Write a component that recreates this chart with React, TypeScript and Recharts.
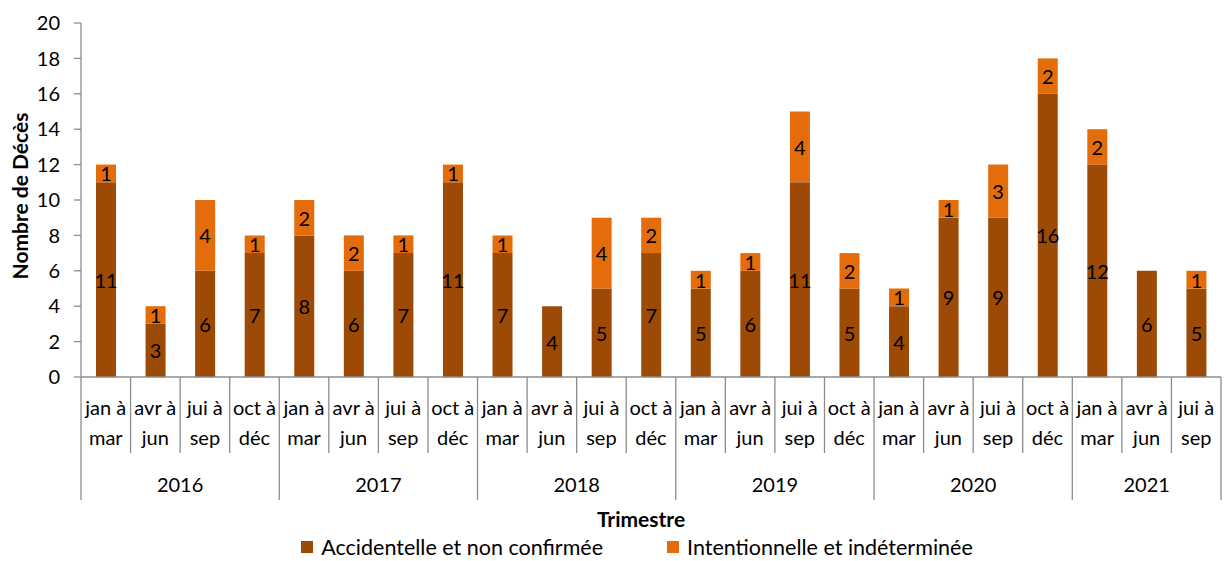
import React from 'react';
import { BarChart, Bar, XAxis, YAxis, LabelList } from 'recharts';

if (typeof document !== 'undefined') {
  document.body.style.margin = '0';
}

const quarterStarts = ['jan à', 'avr à', 'jui à', 'oct à'];
const quarterEnds = ['mar', 'jun', 'sep', 'déc'];
const years = ['2016', '2017', '2018', '2019', '2020', '2021'];
const accidental = [11, 3, 6, 7, 8, 6, 7, 11, 7, 4, 5, 7, 5, 6, 11, 5, 4, 9, 9, 16, 12, 6, 5];
const intentional = [1, 1, 4, 1, 2, 2, 1, 1, 1, 0, 4, 2, 1, 1, 4, 2, 1, 1, 3, 2, 2, 0, 1];
const yTicks = [0, 2, 4, 6, 8, 10, 12, 14, 16, 18, 20];

const SERIES_A = 'Accidentelle et non confirmée';
const SERIES_B = 'Intentionnelle et indéterminée';
const COLOR_A = '#9C4A06';
const COLOR_B = '#E46C0A';
const AXIS = '#8C8C8C';
const FONT = 'Lato, "Open Sans", sans-serif';

const data = accidental.map((a, i) => ({
  key: `${years[Math.floor(i / 4)]}-${i % 4}`,
  a,
  b: intentional[i],
  q: i % 4,
  y: Math.floor(i / 4),
}));

const W = 1231;
const H = 561;
const PLOT_LEFT = 81;
const PLOT_RIGHT = 1221;
const PLOT_TOP = 23;
const AXIS_Y = 377;
const BAND = (PLOT_RIGHT - PLOT_LEFT) / data.length;

function QuarterTick(props: any) {
  const { x, payload } = props;
  const i: number = payload.index;
  const d = data[i];
  const left = x - BAND / 2;
  const yearStart = d.q === 0;
  const isLast = i === data.length - 1;
  const count = data.filter((e) => e.y === d.y).length;
  return (
    <g>
      <line x1={left} x2={left} y1={AXIS_Y} y2={yearStart ? 500 : 453} stroke={AXIS} strokeWidth={1.3} />
      {isLast && (
        <line x1={left + BAND} x2={left + BAND} y1={AXIS_Y} y2={500} stroke={AXIS} strokeWidth={1.3} />
      )}
      <text x={x} y={415} textAnchor="middle" fontSize={20} fill="#000" fontFamily={FONT}>
        {quarterStarts[d.q]}
      </text>
      <text x={x} y={445} textAnchor="middle" fontSize={20} fill="#000" fontFamily={FONT}>
        {quarterEnds[d.q]}
      </text>
      {yearStart && (
        <text x={left + (BAND * count) / 2} y={492} textAnchor="middle" fontSize={20} fill="#000" fontFamily={FONT}>
          {years[d.y]}
        </text>
      )}
    </g>
  );
}

function ValueLabel(props: any) {
  const { x, y, width, height, value } = props;
  if (!value) return null;
  return (
    <text
      x={x + width / 2}
      y={y + height / 2}
      textAnchor="middle"
      dominantBaseline="central"
      fontSize={20}
      fill="#000"
      fontFamily={FONT}
    >
      {value}
    </text>
  );
}

export default function App() {
  return (
    <div style={{ position: 'relative', width: W, height: H, background: '#fff', fontFamily: FONT, overflow: 'hidden' }}>
      <BarChart
        width={W}
        height={H}
        data={data}
        margin={{ top: PLOT_TOP, right: W - PLOT_RIGHT, left: 0, bottom: 0 }}
        barSize={20}
      >
        <YAxis
          width={PLOT_LEFT}
          domain={[0, 20]}
          ticks={yTicks}
          interval={0}
          tickSize={7}
          tickMargin={14}
          axisLine={{ stroke: AXIS, strokeWidth: 1.3 }}
          tickLine={{ stroke: AXIS, strokeWidth: 1.3 }}
          tick={{ fill: '#000', fontSize: 20, fontFamily: FONT }}
          label={{
            content: () => (
              <text
                x={28}
                y={196}
                transform="rotate(-90 28 196)"
                textAnchor="middle"
                fontSize={21}
                fontWeight="bold"
                fill="#000"
                fontFamily={FONT}
              >
                Nombre de Décès
              </text>
            ),
          }}
        />
        <XAxis
          dataKey="key"
          interval={0}
          height={H - AXIS_Y}
          tickLine={false}
          axisLine={{ stroke: AXIS, strokeWidth: 1.3 }}
          tick={<QuarterTick />}
          label={{
            content: () => (
              <text x={641} y={527} textAnchor="middle" fontSize={21} fontWeight="bold" fill="#000" fontFamily={FONT}>
                Trimestre
              </text>
            ),
          }}
        />
        <Bar dataKey="a" name={SERIES_A} stackId="s" fill={COLOR_A} isAnimationActive={false}>
          <LabelList dataKey="a" content={<ValueLabel />} />
        </Bar>
        <Bar dataKey="b" name={SERIES_B} stackId="s" fill={COLOR_B} isAnimationActive={false}>
          <LabelList dataKey="b" content={<ValueLabel />} />
        </Bar>
      </BarChart>
      <div
        style={{
          position: 'absolute',
          top: 536,
          left: 0,
          width: W,
          paddingLeft: 43,
          boxSizing: 'border-box',
          display: 'flex',
          justifyContent: 'center',
          gap: 64,
          fontSize: 21.5,
          color: '#000',
          lineHeight: '22px',
        }}
      >
        {[
          { name: SERIES_A, color: COLOR_A },
          { name: SERIES_B, color: COLOR_B },
        ].map((s) => (
          <div key={s.name} style={{ display: 'flex', alignItems: 'center' }}>
            <span style={{ display: 'inline-block', width: 12, height: 12, background: s.color, marginRight: 8 }} />
            <span>{s.name}</span>
          </div>
        ))}
      </div>
    </div>
  );
}
